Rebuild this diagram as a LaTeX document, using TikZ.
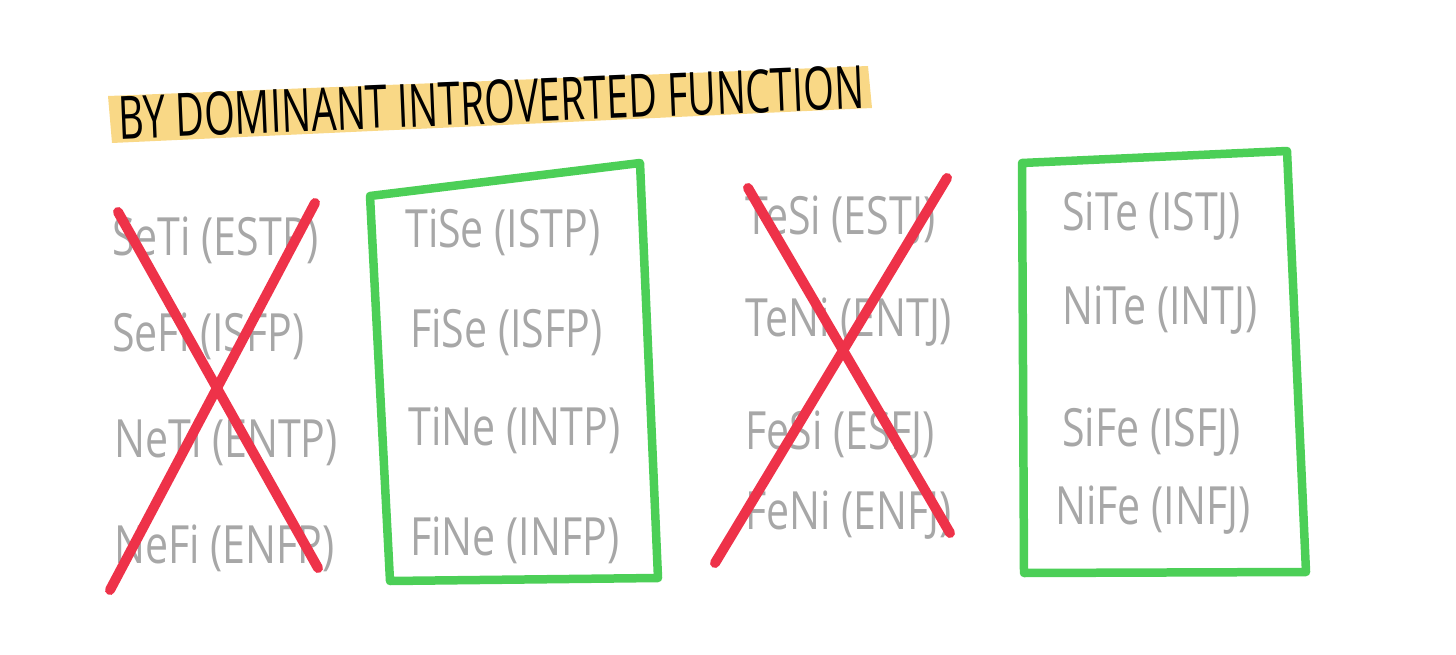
\documentclass[tikz,border=0pt]{standalone}
\usepackage{fontspec}
\setmainfont{Open Sans}
\usepackage{tikz}

\definecolor{penred}{HTML}{EE3249}
\definecolor{pengreen}{HTML}{4CCF57}
\definecolor{pengray}{HTML}{A7A7A7}
\definecolor{marker}{HTML}{F9D886}

\begin{document}
\begin{tikzpicture}[x=0.02cm, y=-0.02cm, line cap=round, line join=round,
	lbl/.style={anchor=west, inner sep=0pt, text=pengray, xscale=0.78, transform shape, font=\fontsize{30}{34}\selectfont},
	cross/.style={draw=penred, line width=0.2cm},
	pick/.style={draw=pengreen, line width=0.17cm}]
	\useasboundingbox (0,0) rectangle (1456,655);
	% highlighted heading
	\fill[marker] (108,96) -- (868,66) -- (872,108) -- (112,143) -- cycle;
	\node[anchor=west, inner sep=0pt, rotate=2.4, xscale=0.66, transform shape, font=\fontsize{34}{38}\selectfont] (title) at (118,118) {BY DOMINANT INTROVERTED FUNCTION};

	% extraverted dominants (crossed out)
	\node[lbl] (seti) at (112,240) {SeTi (ESTP)};
	\node[lbl] (sefi) at (112,336) {SeFi (ISFP)};
	\node[lbl] (neti) at (114,442) {NeTi (ENTP)};
	\node[lbl] (nefi) at (114,548) {NeFi (ENFP)};
	\draw[cross] (118,212) -- (318,568);
	\draw[cross] (315,203) -- (110,590);

	% introverted dominants, perceiving
	\draw[pick] (370,196) -- (640,163) -- (658,578) -- (390,581) -- cycle;
	\node[lbl] (tise) at (405,232) {TiSe (ISTP)};
	\node[lbl] (fise) at (410,332) {FiSe (ISFP)};
	\node[lbl] (tine) at (408,430) {TiNe (INTP)};
	\node[lbl] (fine) at (410,540) {FiNe (INFP)};

	% extraverted dominants, judging (crossed out)
	\node[lbl] (tesi) at (745,220) {TeSi (ESTJ)};
	\node[lbl] (teni) at (745,322) {TeNi (ENTJ)};
	\node[lbl] (fesi) at (745,435) {FeSi (ESFJ)};
	\node[lbl] (feni) at (745,515) {FeNi (ENFJ)};
	\draw[cross] (748,188) -- (950,533);
	\draw[cross] (947,178) -- (715,563);

	% introverted dominants, judging
	\draw[pick] (1022,163) -- (1287,151) -- (1306,572) -- (1024,573) -- cycle;
	\node[lbl] (site) at (1062,216) {SiTe (ISTJ)};
	\node[lbl] (nite) at (1062,310) {NiTe (INTJ)};
	\node[lbl] (sife) at (1062,432) {SiFe (ISFJ)};
	\node[lbl] (nife) at (1055,510) {NiFe (INFJ)};
\end{tikzpicture}
\end{document}
